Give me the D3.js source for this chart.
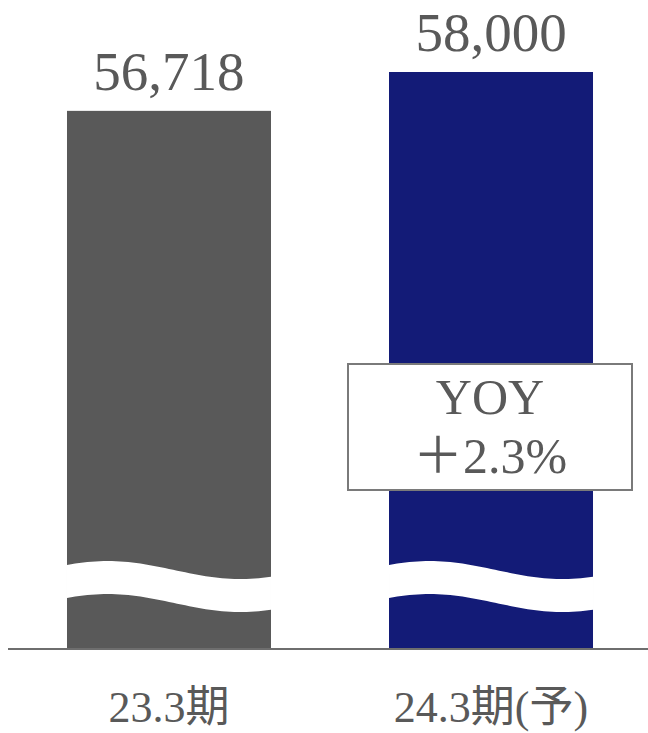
<!DOCTYPE html>
<html><head><meta charset="utf-8">
<script src="https://cdn.jsdelivr.net/npm/d3@7"></script>
<style>html,body{margin:0;padding:0;background:#fff;}svg{display:block;}</style>
</head><body>
<svg id="chart" width="648" height="733"></svg>
<script>
const categories = ["23.3期", "24.3期(予)"];
const values = [56718, 58000];
const valueLabels = ["56,718", "58,000"];
const barColors = ["#595959", "#131b77"];
const yoyLines = ["YOY", "＋2.3%"];
const yDomain = [39000, 60375];

const W = 648, H = 733;
const svg = d3.select("#chart");
const serif = "'Liberation Serif','Times New Roman','Noto Sans CJK JP',serif";
const textColor = "#595959";

const x = d3.scaleBand().domain(categories).range([10, 650]).paddingInner(0.3665).paddingOuter(0.177);
const y = d3.scaleLinear().domain(yDomain).range([648, 0]);

const data = categories.map((c, i) => ({c, v: values[i], label: valueLabels[i], color: barColors[i]}));

// bars
svg.selectAll("rect.bar").data(data).enter().append("rect")
  .attr("class", "bar")
  .attr("x", d => x(d.c)).attr("width", x.bandwidth())
  .attr("y", d => y(d.v)).attr("height", d => y(yDomain[0]) - y(d.v))
  .attr("fill", d => d.color);

// wave break (white band)
const waveMid = 570, waveAmp = 9, waveGap = 33;
data.forEach(d => {
  const x0 = x(d.c), bw = x.bandwidth();
  const ts = d3.range(0, 1.0001, 0.02);
  const topPts = ts.map(t => [x0 + t * bw, waveMid - waveAmp * Math.cos(Math.PI * (t - 0.2) / 0.65)]);
  const botPts = topPts.slice().reverse().map(p => [p[0], p[1] + waveGap]);
  svg.append("path")
    .attr("d", d3.line()(topPts.concat(botPts)) + "Z")
    .attr("fill", "#fff");
});

// axis baseline
svg.append("line").attr("x1", 8).attr("x2", 648).attr("y1", 649).attr("y2", 649)
  .attr("stroke", "#6e6e6e").attr("stroke-width", 2);

// value labels
svg.selectAll("text.val").data(data).enter().append("text")
  .attr("class", "val")
  .attr("x", d => x(d.c) + x.bandwidth() / 2)
  .attr("y", d => y(d.v) - 21)
  .attr("text-anchor", "middle")
  .attr("font-family", serif).attr("font-size", 55)
  .attr("fill", textColor)
  .text(d => d.label);

// category labels
svg.selectAll("text.cat").data(data).enter().append("text")
  .attr("class", "cat")
  .attr("x", d => x(d.c) + x.bandwidth() / 2)
  .attr("y", 722)
  .attr("text-anchor", "middle")
  .attr("font-family", serif).attr("font-size", 44)
  .attr("fill", textColor)
  .text(d => d.c);

// YOY box
const g = svg.append("g");
g.append("rect").attr("x", 348).attr("y", 364).attr("width", 284).attr("height", 126)
  .attr("fill", "#fff").attr("stroke", "#7a7a7a").attr("stroke-width", 2);
g.selectAll("text").data(yoyLines).enter().append("text")
  .attr("x", 490).attr("y", (d, i) => 414 + i * 59)
  .attr("text-anchor", "middle")
  .attr("font-family", serif).attr("font-size", 50)
  .attr("fill", textColor)
  .text(d => d);
</script>
</body></html>
